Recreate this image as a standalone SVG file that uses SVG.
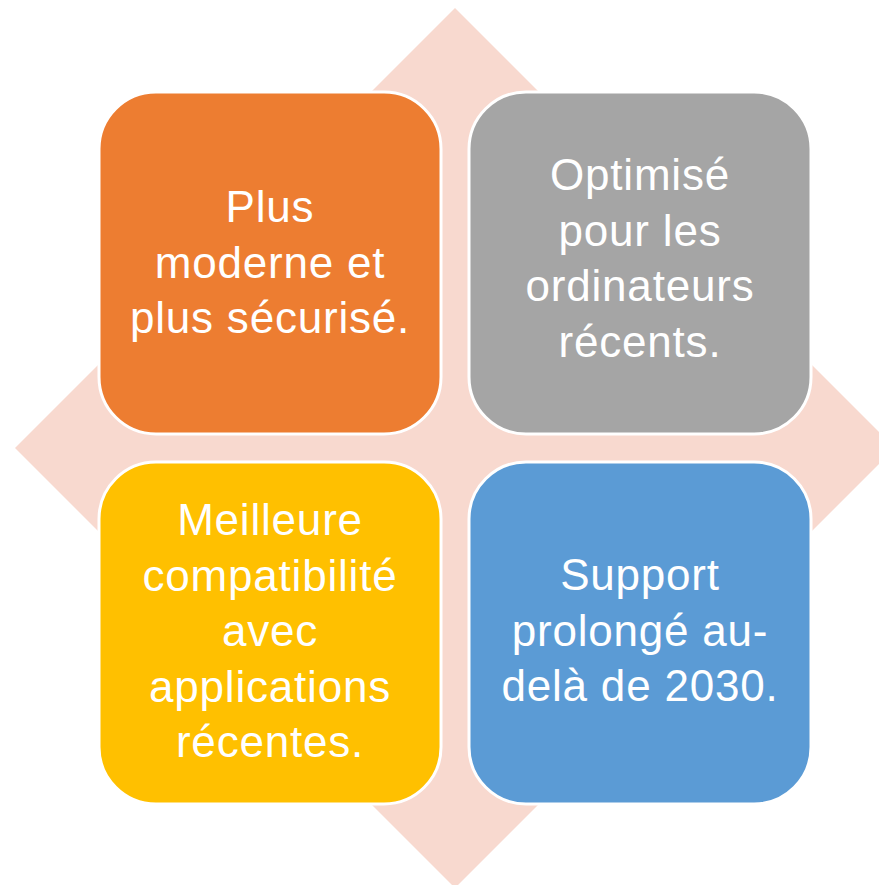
<svg xmlns="http://www.w3.org/2000/svg" width="879" height="885" viewBox="0 0 879 885">
<style>
.box{stroke:#FFFFFF;stroke-width:3}
.t{font-family:"Liberation Sans",Arial,sans-serif;font-size:44px;letter-spacing:0.8px;fill:#FFFFFF;text-anchor:middle}
</style>
<rect width="879" height="885" fill="#FFFFFF"/>
<polygon id="diamond" points="455,8 895,448 455,888 15,448" fill="#F8D9CF"/>
<g id="connectors"></g>
<g id="node1">
<rect class="box" x="99" y="92" width="342" height="342" rx="57" fill="#ED7D31"/>
<text class="t" x="270" y="222">Plus</text>
<text class="t" x="270" y="277.5">moderne et</text>
<text class="t" x="270" y="333">plus sécurisé.</text>
</g>
<g id="node2">
<rect class="box" x="469" y="92" width="342" height="342" rx="57" fill="#A5A5A5"/>
<text class="t" x="640" y="190">Optimisé</text>
<text class="t" x="640" y="245.5">pour les</text>
<text class="t" x="640" y="301">ordinateurs</text>
<text class="t" x="640" y="356.5">récents.</text>
</g>
<g id="node3">
<rect class="box" x="99" y="462" width="342" height="342" rx="57" fill="#FFC000"/>
<text class="t" x="270" y="535">Meilleure</text>
<text class="t" x="270" y="590.5">compatibilité</text>
<text class="t" x="270" y="646">avec</text>
<text class="t" x="270" y="701.5">applications</text>
<text class="t" x="270" y="757">récentes.</text>
</g>
<g id="node4">
<rect class="box" x="469" y="462" width="342" height="342" rx="57" fill="#5B9BD5"/>
<text class="t" x="640" y="590">Support</text>
<text class="t" x="640" y="645.5">prolongé au-</text>
<text class="t" x="640" y="701">delà de 2030.</text>
</g>
</svg>
